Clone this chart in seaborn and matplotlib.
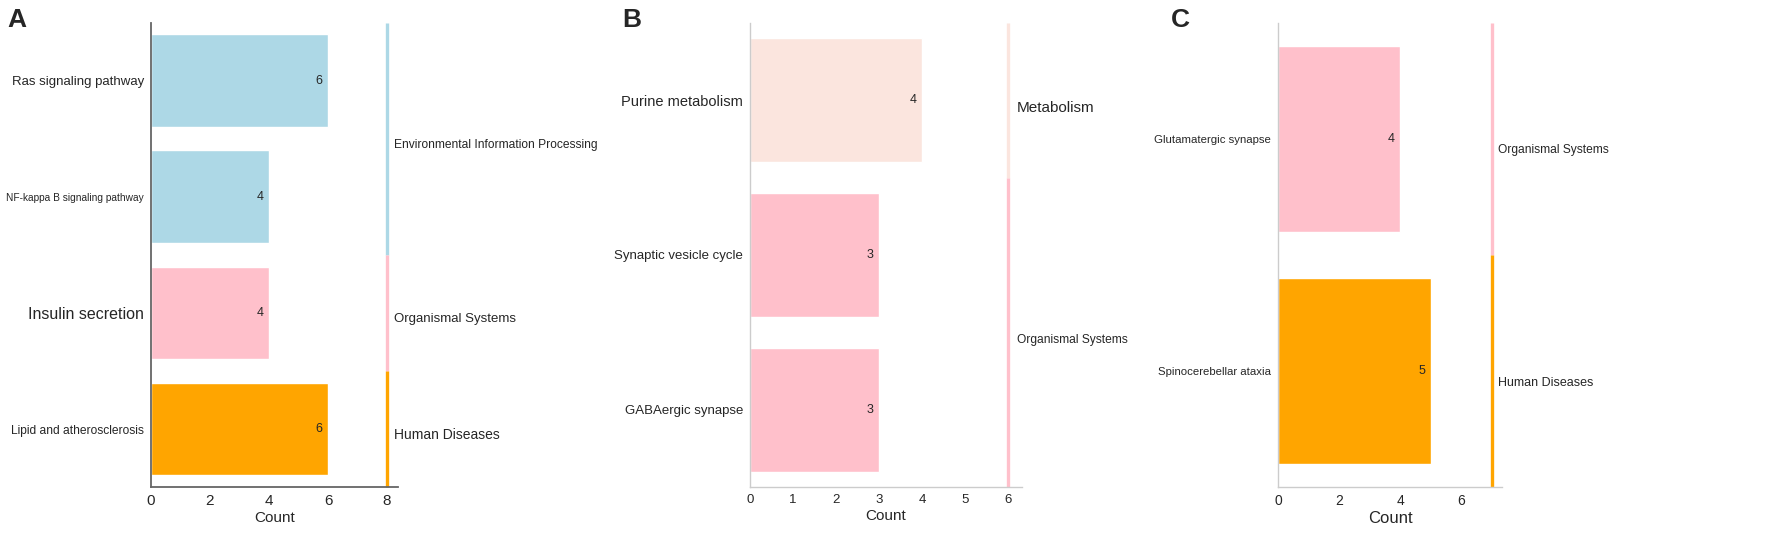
import numpy as np
import pandas as pd
import matplotlib.pyplot as plt
import seaborn as sns
from matplotlib import font_manager

# Panel A
terms_a = ['Ras signaling pathway', 'NF-kappa B signaling pathway',
           'Insulin secretion', 'Lipid and atherosclerosis']
counts_a = [6, 4, 4, 6]
class_a = ['Environmental Information Processing', 'Environmental Information Processing',
           'Organismal Systems', 'Human Diseases']

# Panel B
terms_b = ['Purine metabolism', 'Synaptic vesicle cycle', 'GABAergic synapse']
counts_b = [4, 3, 3]
class_b = ['Metabolism', 'Organismal Systems', 'Organismal Systems']

# Panel C
terms_c = ['Glutamatergic synapse', 'Spinocerebellar ataxia']
counts_c = [4, 5]
class_c = ['Organismal Systems', 'Human Diseases']

class_colors = {
    'Environmental Information Processing': '#ADD8E6',
    'Organismal Systems': '#FFC0CB',
    'Human Diseases': '#FFA500',
    'Metabolism': '#FBE5DE',
}

sns.set_style('white')
plt.rcParams['font.family'] = ['Liberation Sans', 'DejaVu Sans']

# some labels in the figure use a condensed face
try:
    font_manager.findfont('Liberation Sans Narrow', fallback_to_default=False)
    NARROW, SHRINK = 'Liberation Sans Narrow', 1.0
except Exception:
    NARROW, SHRINK = 'Liberation Sans', 0.82


def label_font(spec):
    size, narrow = spec
    if narrow:
        return {'family': NARROW, 'size': size * SHRINK}
    return {'family': 'Liberation Sans', 'size': size}


def draw_panel(ax, terms, counts, classes, strip_x, xmax, xticks, style):
    df = pd.DataFrame({'term': terms, 'count': counts, 'cls': classes})
    sns.barplot(data=df, y='term', x='count', hue='cls', palette=class_colors,
                dodge=False, width=0.8, legend=False, ax=ax, saturation=1)
    for cont in ax.containers:
        ax.bar_label(cont, fmt='%d', padding=-9, fontsize=style['val_size'])

    # category strip on the right
    start = 0
    for i in range(1, len(classes) + 1):
        if i == len(classes) or classes[i] != classes[start]:
            cls = classes[start]
            y0, y1 = start - 0.5, i - 0.5
            ax.plot([strip_x, strip_x], [y0, y1], color=class_colors[cls],
                    lw=2.4, solid_capstyle='butt', clip_on=False)
            fd = label_font(style['cls_font'][cls])
            ax.text(strip_x + style['lab_dx'], (y0 + y1) / 2 + 0.05, cls,
                    va='center', ha='left', fontfamily=fd['family'],
                    fontsize=fd['size'])
            start = i

    ax.set_xlim(0, xmax)
    ax.set_ylim(len(terms) - 0.5, -0.5)
    ax.set_xticks(xticks)
    ax.set_ylabel('')
    ax.set_xlabel('Count', fontsize=style['xlab_size'], labelpad=2)
    ax.tick_params(axis='x', labelsize=style['tick_size'], length=3,
                   color=style['spine'], pad=2)
    ax.tick_params(axis='y', length=3, color=style['spine'], pad=2)
    for lab, spec in zip(ax.get_yticklabels(), style['term_font']):
        fd = label_font(spec)
        lab.set_fontfamily(fd['family'])
        lab.set_fontsize(fd['size'])
    sns.despine(ax=ax)
    for s in ['left', 'bottom']:
        ax.spines[s].set_color(style['spine'])
        ax.spines[s].set_linewidth(style['spine_lw'])


fig = plt.figure(figsize=(17.72, 5.43), dpi=100)
bottom, height = 0.103, 0.855
ax_a = fig.add_axes([0.0852, bottom, 0.1394, height])
ax_b = fig.add_axes([0.4233, bottom, 0.1535, height])
ax_c = fig.add_axes([0.7212, bottom, 0.1264, height])

draw_panel(ax_a, terms_a, counts_a, class_a, 8, 8.37, [0, 2, 4, 6, 8], {
    'val_size': 9, 'tick_size': 11, 'xlab_size': 11, 'spine': '#666666',
    'spine_lw': 1.3, 'lab_dx': 0.25,
    'term_font': [(11.6, True), (8.9, True), (11.5, False), (10.5, True)],
    'cls_font': {'Environmental Information Processing': (10.5, True),
                 'Organismal Systems': (9.5, False),
                 'Human Diseases': (10, False)},
})
draw_panel(ax_b, terms_b, counts_b, class_b, 6, 6.33, [0, 1, 2, 3, 4, 5, 6], {
    'val_size': 9, 'tick_size': 9.5, 'xlab_size': 11, 'spine': '#cccccc',
    'spine_lw': 1.0, 'lab_dx': 0.2,
    'term_font': [(10.5, False), (9.5, False), (9.5, False)],
    'cls_font': {'Metabolism': (11, False), 'Organismal Systems': (10.5, True)},
})
draw_panel(ax_c, terms_c, counts_c, class_c, 7, 7.33, [0, 2, 4, 6], {
    'val_size': 9, 'tick_size': 10, 'xlab_size': 12, 'spine': '#cccccc',
    'spine_lw': 1.0, 'lab_dx': 0.2,
    'term_font': [(10, True), (10, True)],
    'cls_font': {'Organismal Systems': (10.5, True),
                 'Human Diseases': (11, True)},
})

for x, letter in [(0.004, 'A'), (0.351, 'B'), (0.661, 'C')]:
    fig.text(x, 0.985, letter, fontsize=19, fontweight='bold', va='top', ha='left')

fig.savefig('out.png', dpi=100)
